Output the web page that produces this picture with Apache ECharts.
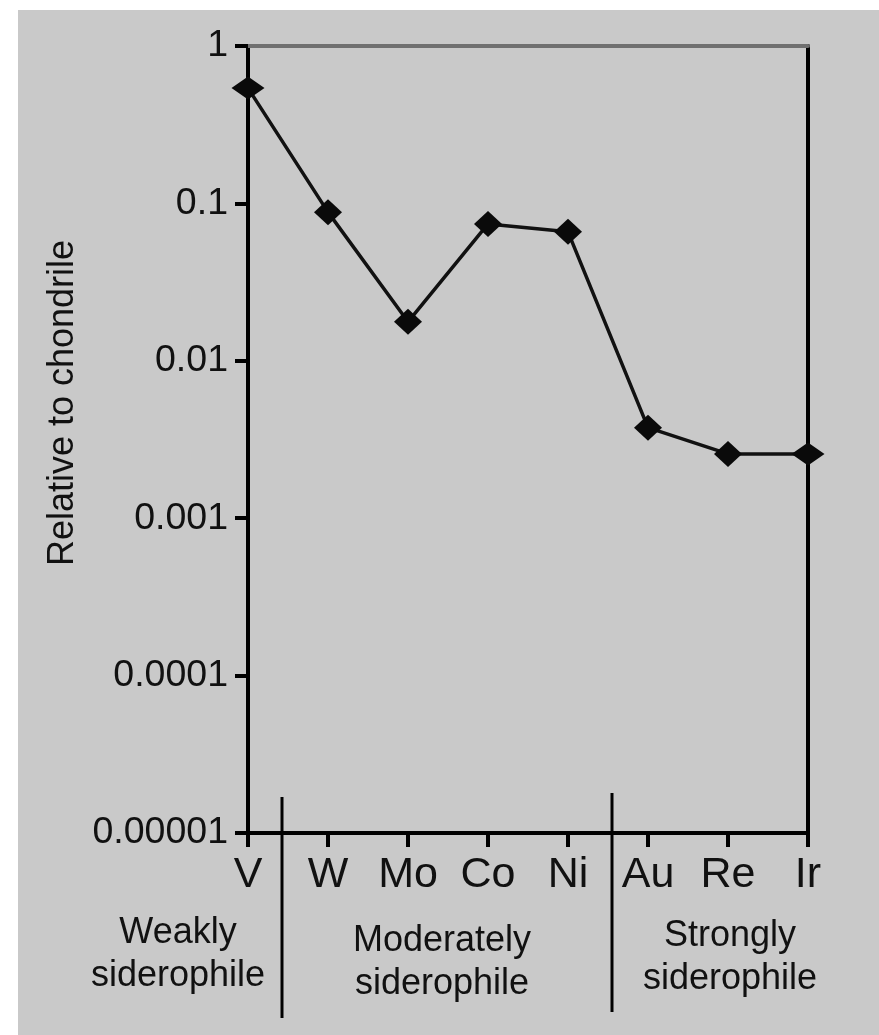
<!DOCTYPE html>
<html>
<head>
<meta charset="utf-8">
<script src="https://cdn.jsdelivr.net/npm/echarts@6/dist/echarts.min.js"></script>
<style>
  html, body { margin: 0; padding: 0; background: #ffffff; }
  #wrap { position: relative; width: 879px; height: 1035px; background: #ffffff; }
  #chart { position: absolute; left: 18px; top: 10px; width: 861px; height: 1025px; }
</style>
</head>
<body>
<div id="wrap"><div id="chart"></div></div>
<script>
// ---- data ----
const elements = ['V', 'W', 'Mo', 'Co', 'Ni', 'Au', 'Re', 'Ir'];
const relativeToChondrite = [0.54, 0.088, 0.0177, 0.074, 0.066, 0.00376, 0.00256, 0.00256];
const yTickLabels = ['0.00001', '0.0001', '0.001', '0.01', '0.1', '1'];
const groupLabels = ['Weakly\nsiderophile', 'Moderately\nsiderophile', 'Strongly\nsiderophile'];
const yAxisTitle = 'Relative to chondrile';

const FONT = '"Liberation Sans", Arial, Helvetica, sans-serif';
const chart = echarts.init(document.getElementById('chart'), null, { renderer: 'canvas' });

const option = {
  backgroundColor: '#c9c9c9',
  animation: false,
  textStyle: { fontFamily: FONT, color: '#111' },
  grid: { left: 230, right: 71, top: 36, bottom: 202, containLabel: false },
  xAxis: [
    {
      type: 'category',
      data: elements,
      boundaryGap: false,
      position: 'bottom',
      axisLine: { show: true, onZero: false, lineStyle: { color: '#000', width: 4 } },
      axisTick: { show: true, inside: false, length: 14, alignWithLabel: true, lineStyle: { color: '#000', width: 4 } },
      axisLabel: { show: true, fontSize: 43, color: '#111', fontFamily: FONT, margin: 21 },
      splitLine: { show: false }
    },
    {
      type: 'category',
      data: elements,
      boundaryGap: false,
      position: 'top',
      axisLine: { show: true, onZero: false, lineStyle: { color: '#707070', width: 4 } },
      axisTick: { show: false },
      axisLabel: { show: false },
      splitLine: { show: false }
    }
  ],
  yAxis: [
    {
      type: 'log',
      logBase: 10,
      min: 0.00001,
      max: 1,
      position: 'left',
      axisLine: { show: true, onZero: false, lineStyle: { color: '#000', width: 4 } },
      axisTick: { show: true, inside: false, length: 13, lineStyle: { color: '#000', width: 4 } },
      axisLabel: {
        show: true, fontSize: 37.5, color: '#111', fontFamily: FONT, margin: 20,
        formatter: function (v) {
          const i = Math.round(Math.log10(v)) + 5;
          return yTickLabels[i] !== undefined ? yTickLabels[i] : '';
        }
      },
      splitLine: { show: false },
      minorTick: { show: false }
    },
    {
      type: 'log',
      logBase: 10,
      min: 0.00001,
      max: 1,
      position: 'right',
      axisLine: { show: true, onZero: false, lineStyle: { color: '#000', width: 4 } },
      axisTick: { show: false },
      axisLabel: { show: false },
      splitLine: { show: false }
    }
  ],
  series: [
    {
      type: 'line',
      xAxisIndex: 0,
      yAxisIndex: 0,
      data: relativeToChondrite,
      clip: false,
      symbol: 'diamond',
      symbolSize: function (v, p) {
        return (p.dataIndex === 0 || p.dataIndex === elements.length - 1) ? [33, 23] : [28, 26];
      },
      showAllSymbol: true,
      lineStyle: { color: '#111', width: 3.5 },
      itemStyle: { color: '#0a0a0a', borderWidth: 0 },
      z: 5
    }
  ],
  graphic: [
    {
      type: 'text',
      x: 45, y: 393,
      rotation: Math.PI / 2,
      style: {
        text: yAxisTitle, fill: '#111', fontSize: 36, fontFamily: FONT,
        textAlign: 'center', textVerticalAlign: 'middle'
      }
    },
    {
      type: 'line',
      shape: { x1: 264, y1: 787, x2: 264, y2: 1008 },
      style: { stroke: '#000', lineWidth: 3 }
    },
    {
      type: 'line',
      shape: { x1: 594, y1: 783, x2: 594, y2: 1002 },
      style: { stroke: '#000', lineWidth: 3 }
    },
    {
      type: 'text', x: 160, y: 945,
      style: { text: groupLabels[0], fill: '#111', fontSize: 36, lineHeight: 43, fontFamily: FONT, textAlign: 'center', textVerticalAlign: 'middle' }
    },
    {
      type: 'text', x: 424, y: 953,
      style: { text: groupLabels[1], fill: '#111', fontSize: 36, lineHeight: 43, fontFamily: FONT, textAlign: 'center', textVerticalAlign: 'middle' }
    },
    {
      type: 'text', x: 712, y: 948,
      style: { text: groupLabels[2], fill: '#111', fontSize: 36, lineHeight: 43, fontFamily: FONT, textAlign: 'center', textVerticalAlign: 'middle' }
    }
  ]
};
chart.setOption(option);
</script>
</body>
</html>
